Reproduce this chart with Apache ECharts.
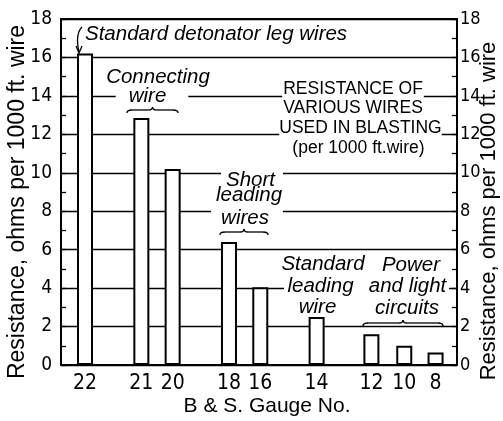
<!DOCTYPE html>
<html>
<head>
<meta charset="utf-8">
<script src="https://cdn.jsdelivr.net/npm/echarts@6/dist/echarts.min.js"></script>
<style>
  html, body { margin: 0; padding: 0; background: #fff; }
  #chart { width: 503px; height: 421px; }
</style>
</head>
<body>
<div id="chart"></div>
<script>
// B & S gauge numbers, their places along the horizontal scale, and resistance (ohms per 1000 ft)
const gauges = ['22', '21', '20', '18', '16', '14', '12', '10', '8'];
const gaugeSlots = [0, 1.8, 2.8, 4.6, 5.6, 7.4, 9.15, 10.2, 11.2];
const ohmsPer1000ft = [16.2, 12.85, 10.2, 6.4, 4.05, 2.5, 1.6, 1.0, 0.65];
const yTickLabels = ['0', '2', '4', '6', '8', '10', '12', '14', '16', '18'];

const NARROW = '"Liberation Sans Narrow", "DejaVu Sans Condensed", "Liberation Sans", sans-serif';
const SANS = '"Liberation Sans", Arial, sans-serif';
const HAND = 'italic 20.5px "Liberation Sans", Arial, sans-serif';
const CAPS = '17.5px "Liberation Sans", Arial, sans-serif';
const INK = { stroke: '#000', lineWidth: 1.3, fill: null };

const chart = echarts.init(document.getElementById('chart'), null, { renderer: 'canvas' });

function note(text, x, y, font, pad) {
  const style = { text: text, font: font, fill: '#000', align: 'center', verticalAlign: 'middle' };
  if (pad) { style.backgroundColor = '#fff'; style.padding = pad; }
  return { type: 'text', x: x, y: y, z: 50, silent: true, style: style };
}

function curve(x1, y1, cpx1, cpy1, x2, y2) {
  return { type: 'bezierCurve', z: 50, silent: true,
           shape: { x1: x1, y1: y1, cpx1: cpx1, cpy1: cpy1, x2: x2, y2: y2 }, style: INK };
}

function seg(x1, y1, x2, y2) {
  return { type: 'line', z: 50, silent: true,
           shape: { x1: x1, y1: y1, x2: x2, y2: y2 }, style: INK };
}

// horizontal brace with hooked ends and a cusp pointing up at the middle
function brace(x0, x1, y) {
  const xc = (x0 + x1) / 2;
  return [
    curve(x0, y + 3, x0, y, x0 + 5, y),
    seg(x0 + 5, y, xc - 4, y),
    curve(xc - 4, y, xc, y, xc, y - 3),
    curve(xc, y - 3, xc, y, xc + 4, y),
    seg(xc + 4, y, x1 - 5, y),
    curve(x1 - 5, y, x1, y, x1, y + 3)
  ];
}

const yAxisBase = {
  type: 'value', min: 0, max: 18, interval: 2,
  axisLine: { show: true, onZero: false, lineStyle: { color: '#000', width: 2 } },
  axisTick: { show: true, inside: true, length: 5, lineStyle: { color: '#000', width: 1.3 } },
  minorTick: { show: true, splitNumber: 2, length: 5, lineStyle: { color: '#000', width: 1.3 } },
  nameLocation: 'middle', nameRotate: 90, nameMoveOverlap: false
};

chart.setOption({
  animation: false,
  backgroundColor: '#fff',
  grid: { left: 61, right: 46, top: 19, bottom: 56, containLabel: false, outerBoundsMode: 'none' },
  xAxis: [
    {
      type: 'value', position: 'bottom', min: -0.767, max: 11.885,
      axisLine: { show: true, onZero: false, lineStyle: { color: '#000', width: 2 } },
      axisTick: { show: false }, axisLabel: { show: false }, splitLine: { show: false },
      name: 'B & S. Gauge No.', nameLocation: 'middle', nameGap: 31, nameMoveOverlap: false,
      nameTextStyle: { fontFamily: SANS, fontSize: 21, color: '#000', padding: [0, 0, 0, 16] }
    },
    {
      type: 'value', position: 'top', min: -0.767, max: 11.885,
      axisLine: { show: true, onZero: false, lineStyle: { color: '#000', width: 2 } },
      axisTick: { show: false }, axisLabel: { show: false }, splitLine: { show: false }
    }
  ],
  yAxis: [
    Object.assign({}, yAxisBase, {
      position: 'left',
      axisLabel: { margin: 9, fontFamily: NARROW, fontSize: 19, color: '#000',
                   formatter: (v) => yTickLabels[v / 2] },
      splitLine: { show: true, lineStyle: { color: '#000', width: 1.4 } },
      name: 'Resistance, ohms per 1000 ft. wire', nameGap: 32,
      nameTextStyle: { fontFamily: SANS, fontSize: 23, color: '#000', padding: [0, 20, 0, 0] }
    }),
    Object.assign({}, yAxisBase, {
      position: 'right',
      axisLabel: { margin: 3, fontFamily: NARROW, fontSize: 18, color: '#000',
                   formatter: (v) => yTickLabels[v / 2] },
      splitLine: { show: false },
      name: 'Resistance, ohms per 1000 ft. wire', nameGap: 21,
      nameTextStyle: { fontFamily: SANS, fontSize: 22, color: '#000', padding: [0, 38, 0, 0] }
    })
  ],
  series: [{
    type: 'bar',
    xAxisIndex: 0, yAxisIndex: 0,
    data: gaugeSlots.map((s, i) => [s, ohmsPer1000ft[i]]),
    barWidth: 16,
    silent: true,
    itemStyle: { color: '#fff', borderColor: '#000', borderWidth: 2 },
    label: {
      show: true, position: 'bottom', distance: 8,
      formatter: (p) => gauges[p.dataIndex],
      fontFamily: NARROW, fontSize: 21, color: '#000'
    }
  }],
  graphic: [
    // leg wire callout with its arrow
    { type: 'text', x: 85, y: 34.5, z: 50, silent: true,
      style: { text: 'Standard detonator leg wires', font: HAND, fill: '#000', align: 'left', verticalAlign: 'middle' } },
    curve(82, 27, 75, 34, 79, 52),
    { type: 'polyline', z: 50, silent: true, shape: { points: [[76, 46], [79, 53], [82, 46]] }, style: INK },

    note('Connecting', 158, 77, HAND),
    note('wire', 152, 96, HAND, [0, 22, 0, 13]),
    ...brace(127, 178, 110),

    note('RESISTANCE OF', 353, 89.5, CAPS, [0, 1, 0, 1]),
    note('VARIOUS WIRES', 353, 108, CAPS),
    note('USED IN BLASTING', 360.5, 128.5, CAPS, [0, 0, 0, 0]),
    note('(per 1000 ft.wire)', 358.5, 148, CAPS),

    note('Short', 252, 180.5, HAND, [2, 8, 0, 5]),
    note('leading', 249, 195.5, HAND),
    note('wires', 247, 218, HAND, [0, 14, 0, 10]),
    ...brace(220, 268, 232),

    // clear the 4-ohm rule behind the two middle text lines
    { type: 'rect', z: 45, silent: true, shape: { x: 284, y: 284, width: 165, height: 8 },
      style: { fill: '#fff', stroke: null } },

    note('Standard', 323, 264.5, HAND),
    note('leading', 320.5, 286, HAND),
    note('wire', 317.5, 307, HAND),

    note('Power', 411, 265.5, HAND),
    note('and light', 407.5, 286, HAND),
    note('circuits', 407, 308, HAND),
    ...brace(363, 443, 323)
  ]
});
</script>
</body>
</html>
